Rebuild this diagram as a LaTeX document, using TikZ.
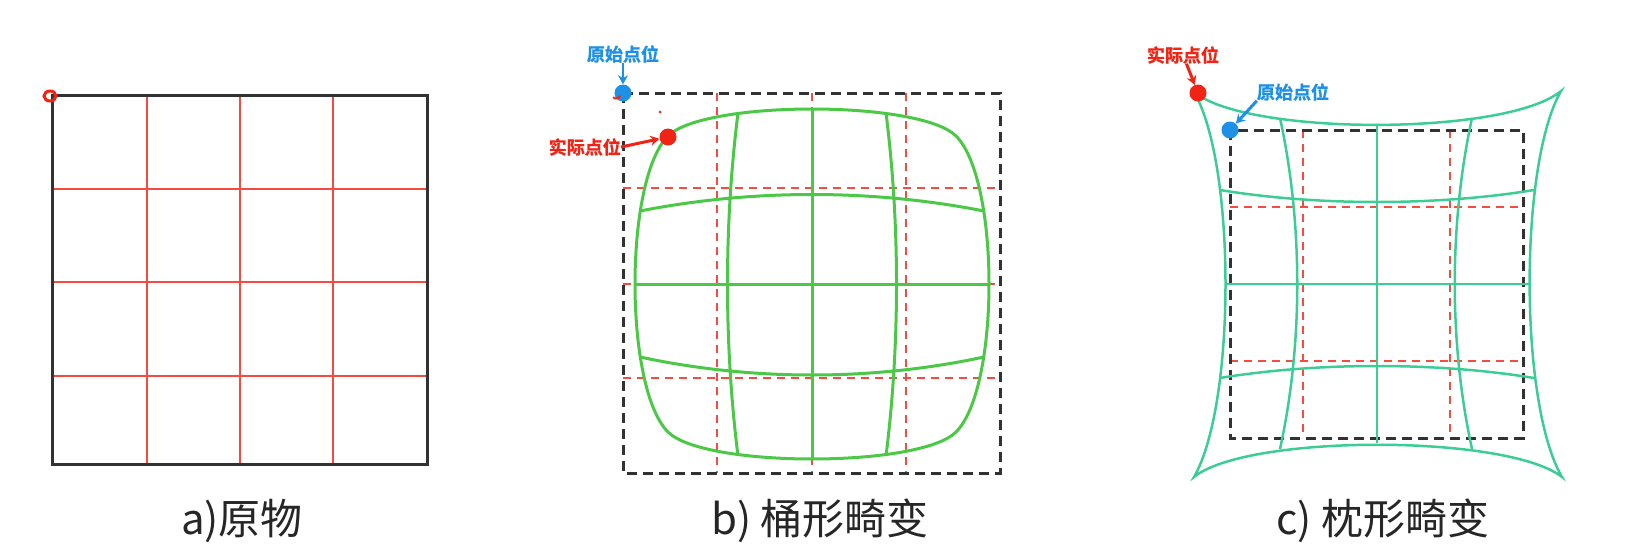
\documentclass[tikz,border=0pt]{standalone}
\usepackage{fontspec}
\newfontfamily\cjk{Noto Sans CJK SC}[BoldFont={Noto Sans CJK SC Bold},BoldFeatures={FakeBold=1.2}]
\usetikzlibrary{arrows.meta}
\definecolor{gridred}{RGB}{245,75,65}
\definecolor{boxgray}{RGB}{50,50,50}
\definecolor{barrelgreen}{RGB}{75,200,70}
\definecolor{pingreen}{RGB}{60,205,150}
\definecolor{origblue}{RGB}{30,145,230}
\definecolor{realred}{RGB}{240,35,20}

\begin{document}
\begin{tikzpicture}[x=1pt,y=-1pt,
  caption/.style={font=\cjk\fontsize{42}{42}\selectfont, text=black!85, inner sep=0pt},
  pointtag/.style={font=\cjk\bfseries\fontsize{18}{18}\selectfont, inner sep=0pt},
  origdot/.style={circle, fill=origblue, inner sep=0pt, minimum size=17pt},
  realdot/.style={circle, fill=realred, inner sep=0pt, minimum size=17pt},
  redgrid/.style={gridred, line width=1.8pt, dash pattern=on 8pt off 6pt},
  blackbox/.style={boxgray, line width=3pt, dash pattern=on 10pt off 6pt},
  pointer/.style={line width=3pt, -{Stealth[length=9pt,width=10pt]}}]
\useasboundingbox (0,0) rectangle (1625,549);

% a) original grid
\draw [gridred,line width=2pt] (147,95) to (147,464);
\draw [gridred,line width=2pt] (240,95) to (240,464);
\draw [gridred,line width=2pt] (333,95) to (333,464);
\draw [gridred,line width=1.5pt] (52,189) to (427,189);
\draw [gridred,line width=2.5pt] (52,282) to (427,282);
\draw [gridred,line width=1.5pt] (52,376) to (427,376);
\draw [boxgray,line width=3pt] (52,95) rectangle (427,464);
\draw [realred,line width=3pt] (50,96) ellipse (6pt and 5pt);

% b) barrel distortion
\draw [redgrid] (717,93) to (717,473);
\draw [redgrid] (812,93) to (812,473);
\draw [redgrid] (906,93) to (906,473);
\draw [redgrid] (623,188) to (1000,188);
\draw [redgrid] (623,284) to (1000,284);
\draw [redgrid] (623,378) to (1000,378);
\draw [blackbox] (623,93) rectangle (1000,473);
\begin{scope}[shift={(812,284)}, barrelgreen, line width=3pt]
\draw (-144,-148) .. controls (-108,-184) and (108,-184) .. (144,-148)
  .. controls (188,-104) and (188,104) .. (144,148)
  .. controls (108,184) and (-108,184) .. (-144,148)
  .. controls (-188,104) and (-188,-104) .. cycle;
\draw (-177,0) to (178,0);
\draw (0,-175) to (0,176);
\draw (-172,-73) .. controls (-60,-95) and (60,-95) .. (172,-73);
\draw (-172,73) .. controls (-60,97) and (60,97) .. (172,73);
\draw (-74,-171) .. controls (-88,-60) and (-88,60) .. (-74,172);
\draw (74,-171) .. controls (88,-60) and (88,60) .. (74,172);
\end{scope}
\node [origdot] (borig) at (623,93) {};
\draw [realred,line width=2pt] (borig.center) ++(-3,3) arc (200:320:-4);
\node [realdot] (breal) at (668,137) {};
\fill [realred] (660,112) circle (1.5pt);
\node [pointtag,text=origblue] (borigtag) at (623,54) {原始点位};
\node [pointtag,text=realred,anchor=east] (brealtag) at (621,147) {实际点位};
\draw [pointer,origblue,line width=2.5pt] (borigtag) to (borig);
\draw [pointer,realred] (brealtag.east) to (breal);

% c) pincushion distortion
\draw [redgrid] (1303,130) to (1303,438);
\draw [redgrid] (1377,130) to (1377,438);
\draw [redgrid] (1450,130) to (1450,438);
\draw [redgrid] (1230,207) to (1523,207);
\draw [redgrid] (1230,284) to (1523,284);
\draw [redgrid] (1230,361) to (1523,361);
\draw [blackbox] (1230,130) rectangle (1523,438);
\begin{scope}[shift={(1377,284)}, pingreen, line width=2.5pt]
\draw (-183,-192) .. controls (-130,-148) and (130,-148) .. (184,-193)
  .. controls (142,-120) and (142,120) .. (185,193)
  .. controls (130,150) and (-130,150) .. (-183,193)
  .. controls (-141,120) and (-141,-120) .. cycle;
\draw (-151,0) to (153,0);
\draw (0,-159) to (0,159);
\draw (-157,-94) .. controls (-60,-78) and (60,-78) .. (157,-94);
\draw (-157,94) .. controls (-60,78) and (60,78) .. (157,94);
\draw (-97,-166) .. controls (-74,-60) and (-74,60) .. (-97,165);
\draw (95,-166) .. controls (72,-60) and (72,60) .. (95,165);
\end{scope}
\node [origdot] (corig) at (1230,130) {};
\node [realdot] (creal) at (1198,93) {};
\node [pointtag,text=realred] (crealtag) at (1183,55) {实际点位};
\node [pointtag,text=origblue] (corigtag) at (1293,92) {原始点位};
\draw [pointer,realred] (crealtag) to (creal);
\draw [pointer,origblue] (corigtag.south west) to (corig);

% captions
\node [caption] (capa) at (242,521) {a)原物};
\node [caption] (capb) at (820,521) {b)\ 桶形畸变};
\node [caption] (capc) at (1383,521) {c)\ 枕形畸变};
\end{tikzpicture}
\end{document}
